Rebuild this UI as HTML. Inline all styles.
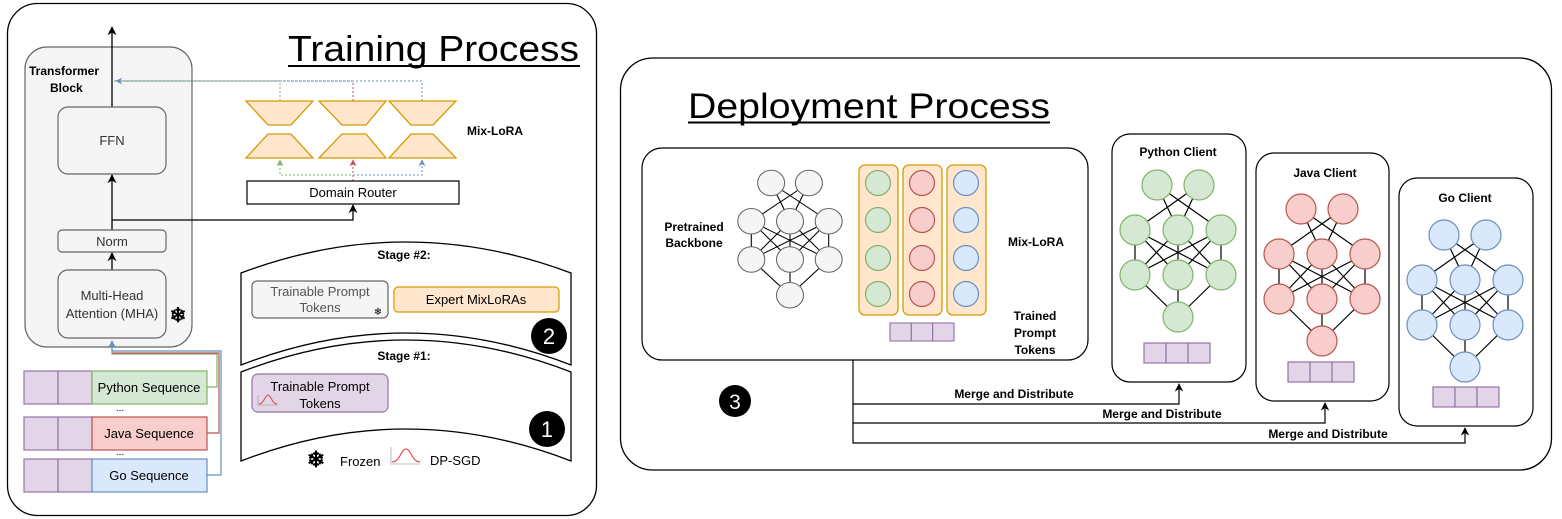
<!DOCTYPE html>
<html><head><meta charset="utf-8"><style>
html,body{margin:0;padding:0;background:#fff;}
svg{display:block;font-family:"Liberation Sans",Arial,sans-serif;}
.b{font-weight:bold;}
</style></head><body>
<svg width="1562" height="519" viewBox="0 0 1562 519" xmlns="http://www.w3.org/2000/svg">
<defs>
<marker id="ab" viewBox="0 0 10 10" refX="9" refY="5" markerWidth="7" markerHeight="7" orient="auto-start-reverse"><path d="M0,0 L10,5 L0,10 L3,5z" fill="#000"/></marker>
<marker id="ag" viewBox="0 0 10 10" refX="9" refY="5" markerWidth="7" markerHeight="7" orient="auto"><path d="M0,0 L10,5 L0,10 L3,5z" fill="#82b366"/></marker>
<marker id="ar" viewBox="0 0 10 10" refX="9" refY="5" markerWidth="7" markerHeight="7" orient="auto"><path d="M0,0 L10,5 L0,10 L3,5z" fill="#b85450"/></marker>
<marker id="abl" viewBox="0 0 10 10" refX="9" refY="5" markerWidth="7" markerHeight="7" orient="auto"><path d="M0,0 L10,5 L0,10 L3,5z" fill="#6c8ebf"/></marker>
<g id="net">
 <g stroke="#000" stroke-width="1.2" fill="none">
  <path d="M-21,0 L0,45 M-21,0 L43,45 M21,0 L-43,45 M21,0 L0,45"/>
  <path d="M-43,45 L-43,90 M-43,45 L0,90 M-43,45 L43,90 M0,45 L-43,90 M0,45 L0,90 M0,45 L43,90 M43,45 L-43,90 M43,45 L0,90 M43,45 L43,90"/>
  <path d="M-43,90 L0,132 M0,90 L0,132 M43,90 L0,132"/>
 </g>
 <g stroke-width="1.2">
  <circle cx="-21" cy="0" r="15"/><circle cx="21" cy="0" r="15"/>
  <circle cx="-43" cy="45" r="15"/><circle cx="0" cy="45" r="15"/><circle cx="43" cy="45" r="15"/>
  <circle cx="-43" cy="90" r="15"/><circle cx="0" cy="90" r="15"/><circle cx="43" cy="90" r="15"/>
  <circle cx="0" cy="132" r="15"/>
 </g>
</g>
<g id="tok" fill="#e1d5e7" stroke="#9673a6" stroke-width="1.2">
 <rect x="0" y="0" width="22" height="20"/><rect x="22" y="0" width="22" height="20"/><rect x="44" y="0" width="22" height="20"/>
</g>
</defs>

<!-- LEFT PANEL -->
<rect x="7.5" y="3.5" width="589" height="512" rx="30" fill="#fff" stroke="#000" stroke-width="1.3"/>
<text x="288" y="61" font-size="36" textLength="291" lengthAdjust="spacingAndGlyphs">Training Process</text>
<line x1="288" y1="66" x2="580" y2="66" stroke="#000" stroke-width="2"/>

<rect x="25" y="47" width="167" height="300" rx="22" fill="#f5f5f5" stroke="#666" stroke-width="1.2"/>
<text x="29" y="75" font-size="12" class="b">Transformer</text>
<text x="50" y="92" font-size="12" class="b">Block</text>
<line x1="112" y1="107" x2="112" y2="27" stroke="#000" stroke-width="1.3" marker-end="url(#ab)"/>
<rect x="58" y="107" width="108" height="67" rx="10" fill="#f5f5f5" stroke="#666" stroke-width="1.2"/>
<text x="112" y="145" font-size="13" text-anchor="middle" fill="#333">FFN</text>
<line x1="112" y1="230" x2="112" y2="175" stroke="#000" stroke-width="1.3" marker-end="url(#ab)"/>
<rect x="58" y="230" width="108" height="22" rx="4" fill="#f5f5f5" stroke="#666" stroke-width="1.2"/>
<text x="112" y="246" font-size="13" text-anchor="middle" fill="#333">Norm</text>
<line x1="112" y1="270" x2="112" y2="253" stroke="#000" stroke-width="1.3" marker-end="url(#ab)"/>
<rect x="58" y="270" width="108" height="68" rx="10" fill="#f5f5f5" stroke="#666" stroke-width="1.2"/>
<text x="112" y="300" font-size="13" text-anchor="middle" fill="#333">Multi-Head</text>
<text x="112" y="318" font-size="13" text-anchor="middle" fill="#333">Attention (MHA)</text>
<text x="178" y="322" font-size="20" text-anchor="middle" class="b">❄</text>
<polyline points="112,220 353,220 353,205" fill="none" stroke="#000" stroke-width="1.3" marker-end="url(#ab)"/>

<polyline points="280,101 280,81 114,81" fill="none" stroke="#82b366" stroke-width="1" stroke-dasharray="2,2"/>
<polyline points="353,101 353,81 114,81" fill="none" stroke="#b85450" stroke-width="1" stroke-dasharray="2,2"/>
<polyline points="422,101 422,81 116,81" fill="none" stroke="#6c8ebf" stroke-width="1" stroke-dasharray="2,2" marker-end="url(#abl)"/>
<g fill="#ffe6cc" stroke="#d79b00" stroke-width="1.3">
<polygon points="246,101 313,101 291,125 268,125"/>
<polygon points="319,101 386,101 366,125 342,125"/>
<polygon points="389,101 456,101 433,125 411,125"/>
<polygon points="268,134 291,134 313,158 246,158"/>
<polygon points="342,134 366,134 386,158 319,158"/>
<polygon points="411,134 433,134 456,158 389,158"/>
</g>
<polyline points="353,181 353,175 280,175 280,160" fill="none" stroke="#82b366" stroke-width="1" stroke-dasharray="2,2" marker-end="url(#ag)"/>
<polyline points="353,181 353,160" fill="none" stroke="#b85450" stroke-width="1" stroke-dasharray="2,2" marker-end="url(#ar)"/>
<polyline points="353,175 422,175 422,160" fill="none" stroke="#6c8ebf" stroke-width="1" stroke-dasharray="2,2" marker-end="url(#abl)"/>
<text x="467" y="135" font-size="12" class="b">Mix-LoRA</text>
<rect x="247" y="181" width="212" height="23" fill="#fff" stroke="#000" stroke-width="1.2"/>
<text x="353" y="197" font-size="13" text-anchor="middle">Domain Router</text>

<path d="M241,273 Q406,211 571,273 L571,365 Q406,301 241,365 Z" fill="#fff" stroke="#000" stroke-width="1.3"/>
<text x="404" y="259" font-size="12" class="b" text-anchor="middle">Stage #2:</text>
<path d="M241,372 Q406,308 571,372 L571,461 Q406,397 241,461 Z" fill="#fff" stroke="#000" stroke-width="1.3"/>
<text x="404" y="360" font-size="12" class="b" text-anchor="middle">Stage #1:</text>
<rect x="252" y="281" width="136" height="37" rx="5" fill="#f5f5f5" stroke="#666" stroke-width="1.2"/>
<text x="320" y="296" font-size="13" text-anchor="middle" fill="#555">Trainable Prompt</text>
<text x="320" y="312" font-size="13" text-anchor="middle" fill="#555">Tokens</text>
<text x="378" y="315" font-size="10" text-anchor="middle">❄</text>
<rect x="394" y="287" width="165" height="25" rx="4" fill="#ffe6cc" stroke="#d79b00" stroke-width="1.2"/>
<text x="476" y="304" font-size="13" text-anchor="middle">Expert MixLoRAs</text>
<circle cx="549" cy="336" r="18" fill="#000"/>
<text x="549" y="344" font-size="22" fill="#fff" text-anchor="middle">2</text>
<rect x="252" y="374" width="136" height="38" rx="6" fill="#e1d5e7" stroke="#9673a6" stroke-width="1.2"/>
<text x="320" y="391" font-size="13" text-anchor="middle">Trainable Prompt</text>
<text x="320" y="408" font-size="13" text-anchor="middle">Tokens</text>
<path d="M258,395 L258,405 L278,405" fill="none" stroke="#aaa" stroke-width="0.8"/>
<path d="M259,404 C264,404 265,395 268,395 C271,395 272,404 277,404" fill="none" stroke="#e33" stroke-width="0.9"/>
<circle cx="547" cy="429" r="18" fill="#000"/>
<text x="547" y="437" font-size="22" fill="#fff" text-anchor="middle">1</text>
<text x="316" y="467" font-size="22" text-anchor="middle" class="b">❄</text>
<text x="340" y="466" font-size="13">Frozen</text>
<path d="M391,447 L391,464 L420,464" fill="none" stroke="#aaa" stroke-width="0.8"/>
<path d="M392,462 C400,462 401,449 406,449 C411,449 412,462 420,462" fill="none" stroke="#e33" stroke-width="1"/>
<text x="430" y="465" font-size="13">DP-SGD</text>

<polyline points="207,387 217,387 217,354 112,354 112,341" fill="none" stroke="#82b366" stroke-width="1.2"/>
<polyline points="207,433 219,433 219,353 112,353" fill="none" stroke="#b85450" stroke-width="1.2"/>
<polyline points="207,475 221,475 221,351 112,351 112,341" fill="none" stroke="#6c8ebf" stroke-width="1.2" marker-end="url(#abl)"/>
<g stroke-width="1.2">
<rect x="24" y="371" width="34" height="33" fill="#e1d5e7" stroke="#9673a6"/><rect x="58" y="371" width="34" height="33" fill="#e1d5e7" stroke="#9673a6"/>
<rect x="92" y="371" width="115" height="33" fill="#d5e8d4" stroke="#82b366"/>
<rect x="24" y="417" width="34" height="33" fill="#e1d5e7" stroke="#9673a6"/><rect x="58" y="417" width="34" height="33" fill="#e1d5e7" stroke="#9673a6"/>
<rect x="92" y="417" width="115" height="33" fill="#f8cecc" stroke="#b85450"/>
<rect x="24" y="459" width="34" height="33" fill="#e1d5e7" stroke="#9673a6"/><rect x="58" y="459" width="34" height="33" fill="#e1d5e7" stroke="#9673a6"/>
<rect x="92" y="459" width="115" height="33" fill="#dae8fc" stroke="#6c8ebf"/>
</g>
<text x="149" y="392" font-size="13" text-anchor="middle">Python Sequence</text>
<text x="149" y="438" font-size="13" text-anchor="middle">Java Sequence</text>
<text x="149" y="480" font-size="13" text-anchor="middle">Go Sequence</text>
<text x="120" y="411" font-size="10" text-anchor="middle">...</text>
<text x="120" y="455" font-size="10" text-anchor="middle">...</text>

<!-- RIGHT PANEL -->
<rect x="620.5" y="58" width="931" height="412" rx="32" fill="#fff" stroke="#000" stroke-width="1.3"/>
<text x="688" y="118" font-size="35" textLength="362" lengthAdjust="spacingAndGlyphs">Deployment Process</text>
<line x1="688" y1="122.5" x2="1050" y2="122.5" stroke="#000" stroke-width="2"/>

<rect x="642" y="148" width="446" height="212" rx="20" fill="#fff" stroke="#000" stroke-width="1.2"/>
<text x="694" y="231" font-size="12" class="b" text-anchor="middle">Pretrained</text>
<text x="694" y="247" font-size="12" class="b" text-anchor="middle">Backbone</text>
<g transform="translate(790,183) scale(0.9,0.85)"><use href="#net" fill="#f5f5f5" stroke="#666"/></g>
<g fill="#ffe6cc" stroke="#d79b00" stroke-width="1.3">
<rect x="859" y="165" width="39" height="150" rx="6"/>
<rect x="903" y="165" width="39" height="150" rx="6"/>
<rect x="947" y="165" width="39" height="150" rx="6"/>
</g>
<g fill="#d5e8d4" stroke="#82b366" stroke-width="1.2"><circle cx="878" cy="183" r="12.5"/><circle cx="878" cy="220" r="12.5"/><circle cx="878" cy="258" r="12.5"/><circle cx="878" cy="294" r="12.5"/></g>
<g fill="#f8cecc" stroke="#b85450" stroke-width="1.2"><circle cx="922" cy="183" r="12.5"/><circle cx="922" cy="220" r="12.5"/><circle cx="922" cy="258" r="12.5"/><circle cx="922" cy="294" r="12.5"/></g>
<g fill="#dae8fc" stroke="#6c8ebf" stroke-width="1.2"><circle cx="966" cy="183" r="12.5"/><circle cx="966" cy="220" r="12.5"/><circle cx="966" cy="258" r="12.5"/><circle cx="966" cy="294" r="12.5"/></g>
<g transform="translate(890,323) scale(0.97,0.9)"><use href="#tok"/></g>
<text x="1008" y="246" font-size="12" class="b">Mix-LoRA</text>
<text x="1035" y="320" font-size="12" class="b" text-anchor="middle">Trained</text>
<text x="1035" y="337" font-size="12" class="b" text-anchor="middle">Prompt</text>
<text x="1035" y="354" font-size="12" class="b" text-anchor="middle">Tokens</text>

<rect x="1112" y="134" width="134" height="248" rx="18" fill="#fff" stroke="#000" stroke-width="1.2"/>
<text x="1178" y="156" font-size="12" class="b" text-anchor="middle">Python Client</text>
<g transform="translate(1178,185)"><use href="#net" fill="#d5e8d4" stroke="#82b366"/></g>
<g transform="translate(1144,343)"><use href="#tok"/></g>

<rect x="1256" y="153" width="133" height="248" rx="18" fill="#fff" stroke="#000" stroke-width="1.2"/>
<text x="1325" y="177" font-size="12" class="b" text-anchor="middle">Java Client</text>
<g transform="translate(1322,209)"><use href="#net" fill="#f8cecc" stroke="#b85450"/></g>
<g transform="translate(1288,362)"><use href="#tok"/></g>

<rect x="1399" y="178" width="134" height="248" rx="18" fill="#fff" stroke="#000" stroke-width="1.2"/>
<text x="1465" y="202" font-size="12" class="b" text-anchor="middle">Go Client</text>
<g transform="translate(1465,235)"><use href="#net" fill="#dae8fc" stroke="#6c8ebf"/></g>
<g transform="translate(1433,387)"><use href="#tok"/></g>

<circle cx="735" cy="401" r="16" fill="#000"/>
<text x="735" y="409" font-size="21" fill="#fff" text-anchor="middle">3</text>

<g fill="none" stroke="#000" stroke-width="1.2">
<polyline points="853,360 853,404 1179,404 1179,384" marker-end="url(#ab)"/>
<polyline points="853,404 853,423 1325,423 1325,403" marker-end="url(#ab)"/>
<polyline points="853,423 853,443 1465,443 1465,428" marker-end="url(#ab)"/>
</g>
<text x="1014" y="398" font-size="12" class="b" text-anchor="middle">Merge and Distribute</text>
<text x="1162" y="418" font-size="12" class="b" text-anchor="middle">Merge and Distribute</text>
<text x="1328" y="438" font-size="12" class="b" text-anchor="middle">Merge and Distribute</text>
</svg>
</body></html>
